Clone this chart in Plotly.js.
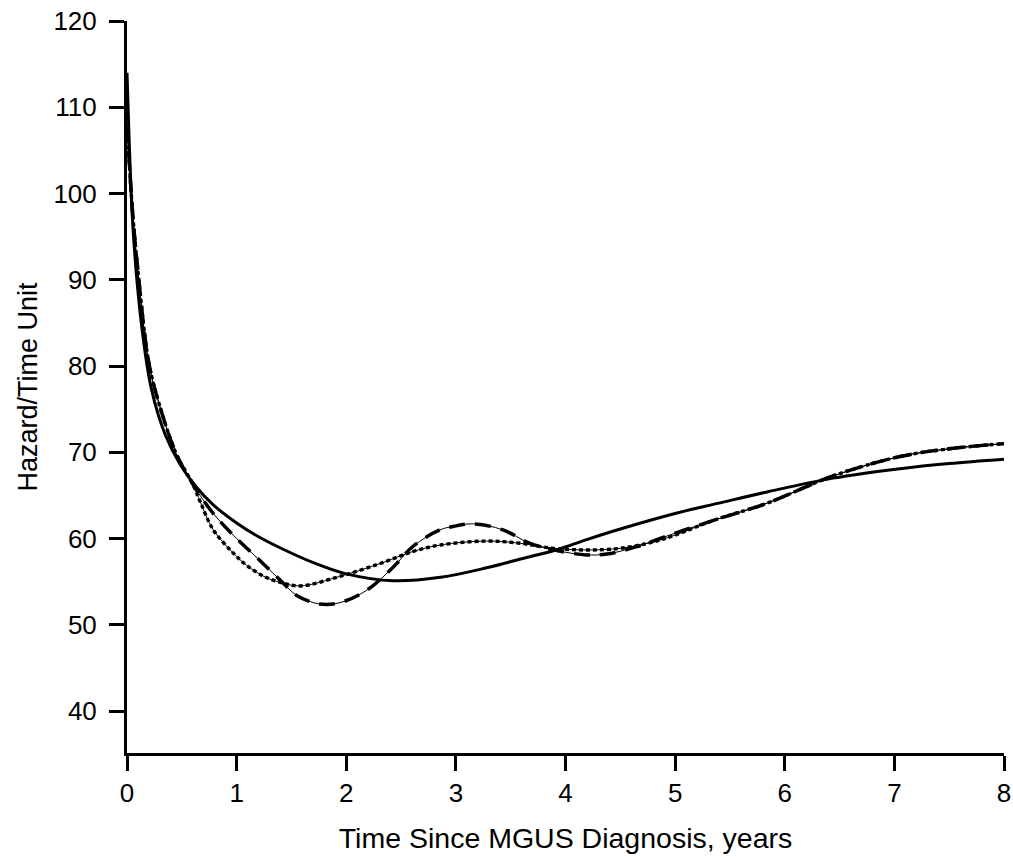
<!DOCTYPE html>
<html>
<head>
<meta charset="utf-8">
<script src="https://cdn.plot.ly/plotly-3.0.1.min.js"></script>
<style>html,body{margin:0;padding:0;background:#fff;}#chart{width:1013px;height:857px;}</style>
</head>
<body>
<div id="chart"></div>
<script>
// Solid curve
const solidX = [0, 0.02, 0.05, 0.09, 0.15, 0.225, 0.35, 0.48, 0.63, 0.787, 1.0, 1.2, 1.4, 1.7, 2.0, 2.43, 2.86, 3.28, 3.6, 3.92, 4.2, 4.5, 5.0, 5.4, 5.84, 6.44, 7.05, 7.5, 8];
const solidY = [114, 106, 97, 90, 83, 77.2, 72, 68.7, 66, 63.9, 61.8, 60.2, 58.9, 57.2, 55.9, 55.1, 55.5, 56.6, 57.65, 58.7, 59.9, 61.1, 62.9, 64.1, 65.4, 67.0, 68.1, 68.7, 69.2];
// Dotted curve
const dotX = [0, 0.05, 0.1, 0.2, 0.3, 0.45, 0.6, 0.67, 0.787, 0.97, 1.09, 1.25, 1.4, 1.58, 1.94, 2.31, 2.61, 2.86, 3.28, 3.59, 3.89, 4.19, 4.5, 4.8, 5.0, 5.35, 5.84, 6.44, 7.05, 7.5, 8];
const dotY = [108, 98, 91, 80.3, 75.3, 69.8, 66.3, 64.2, 61.0, 58.3, 56.9, 55.6, 54.9, 54.5, 55.6, 57.1, 58.5, 59.25, 59.7, 59.44, 58.86, 58.67, 58.86, 59.6, 60.4, 62.1, 64.1, 67.25, 69.5, 70.4, 71.0];
// Long-dash curve
const dashX = [0, 0.05, 0.1, 0.2, 0.3, 0.45, 0.6, 0.787, 1.0, 1.2, 1.396, 1.548, 1.76, 1.943, 2.187, 2.43, 2.61, 2.855, 2.976, 3.16, 3.43, 3.676, 3.92, 4.19, 4.376, 4.65, 4.95, 5.35, 5.84, 6.44, 7.05, 7.5, 8];
const dashY = [108, 98, 91, 80.3, 75.3, 69.8, 66.3, 62.9, 60.0, 57.6, 55.2, 53.4, 52.4, 52.56, 54.0, 56.7, 59.1, 61.0, 61.4, 61.7, 61.0, 59.44, 58.6, 58.1, 58.2, 59.05, 60.4, 62.1, 64.1, 67.25, 69.5, 70.4, 71.0];

const yTicks = [40, 50, 60, 70, 80, 90, 100, 110, 120];
const xTicks = [0, 1, 2, 3, 4, 5, 6, 7, 8];

const traces = [
  {x: dashX, y: dashY, mode: 'lines', line: {color: '#000', width: 1, shape: 'spline'}, hoverinfo: 'skip'},
  {x: dashX, y: dashY, mode: 'lines', line: {color: '#000', width: 3.5, dash: '16px,10px', shape: 'spline'}},
  {x: dotX, y: dotY, mode: 'lines', line: {color: '#000', width: 1, shape: 'spline'}, hoverinfo: 'skip'},
  {x: dotX, y: dotY, mode: 'lines', line: {color: '#000', width: 3.4, dash: '4px,3px', shape: 'spline'}},
  {x: solidX, y: solidY, mode: 'lines', line: {color: '#000', width: 3, shape: 'spline'}}
];

const layout = {
  width: 1013, height: 857,
  paper_bgcolor: '#fff', plot_bgcolor: '#fff',
  showlegend: false,
  margin: {l: 127, r: 9, t: 21, b: 104},
  font: {family: 'Liberation Sans, Arial, sans-serif', color: '#000', size: 26},
  xaxis: {
    range: [0, 8], tickvals: xTicks, ticktext: xTicks.map(String),
    showline: true, linewidth: 3, linecolor: '#000',
    ticks: 'outside', ticklen: 15, tickwidth: 3, tickcolor: '#000',
    showgrid: false, zeroline: false,
    tickfont: {size: 26},
    title: {text: 'Time Since MGUS Diagnosis, years', font: {size: 28.5}, standoff: 21}
  },
  yaxis: {
    range: [35.13, 120], tickvals: yTicks, ticktext: yTicks.map(String),
    showline: true, linewidth: 3, linecolor: '#000',
    ticks: 'outside', ticklen: 15, tickwidth: 3, tickcolor: '#000',
    ticklabelstandoff: 7,
    showgrid: false, zeroline: false,
    tickfont: {size: 26},
    title: {text: 'Hazard/Time Unit', font: {size: 27}, standoff: 8}
  }
};

Plotly.newPlot('chart', traces, layout, {displayModeBar: false, staticPlot: true});
</script>
</body>
</html>
